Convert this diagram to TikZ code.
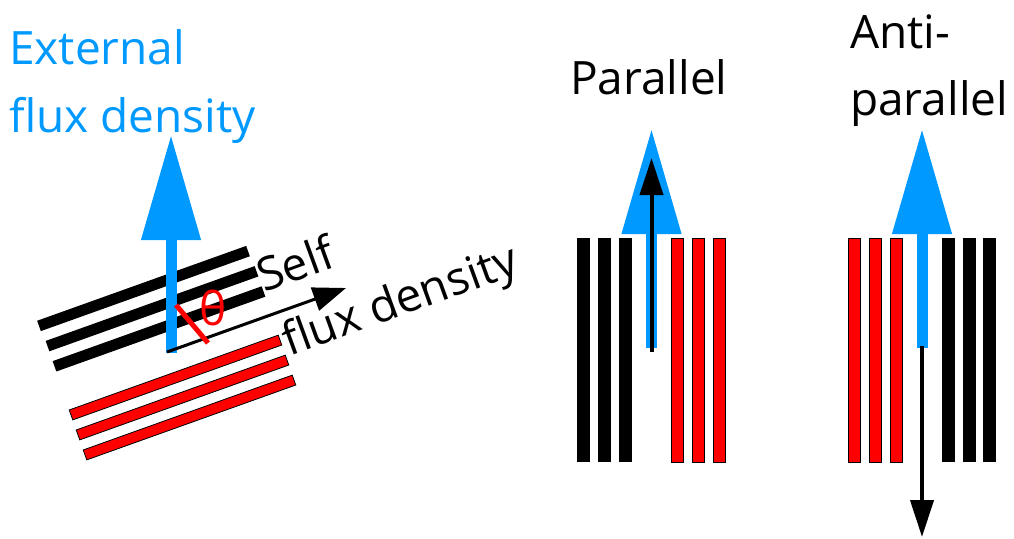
\documentclass[tikz,border=0pt]{standalone}
\usepackage{fontspec}
\setmainfont{Open Sans}
\usetikzlibrary{arrows.meta}
\definecolor{fluxblue}{RGB}{0,153,255}
\definecolor{barred}{RGB}{255,0,0}
\tikzset{
  lbl/.style={inner sep=0pt, anchor=base west, font=\fontsize{46}{55}\selectfont},
  blackbar/.style={fill=black, draw=none, inner sep=0pt, minimum width=13pt, minimum height=224pt},
  redbar/.style={fill=barred, draw=black, line width=0.8pt, inner sep=0pt, minimum width=12pt, minimum height=224pt},
  tiltblack/.style={fill=black, draw=none, inner sep=0pt, minimum width=222pt, minimum height=11pt, rotate=19.7},
  tiltred/.style={fill=barred, draw=black, line width=0.8pt, inner sep=0pt, minimum width=222pt, minimum height=10.5pt, rotate=19.7},
  extarrow/.style={draw=fluxblue, line width=11pt, -{Triangle[length=105pt,width=57pt]}},
  selfarrow/.style={draw=black, line width=4pt, -{Triangle[length=37pt,width=23pt]}},
}
\begin{document}
\begin{tikzpicture}[x=1pt,y=-1pt]
\useasboundingbox (0,0) rectangle (1014,538);

% ---------- left group ----------
\node[lbl, text=fluxblue] (ext1) at (9,64) {External};
\node[lbl, text=fluxblue] (ext2) at (9,132) {flux density};

\node[tiltblack] (b1) at (143.5,288.5) {};
\node[tiltblack] (b2) at (152,308.7) {};
\node[tiltblack] (b3) at (159,328.9) {};
\node[tiltred] (r1) at (175.5,377.5) {};
\node[tiltred] (r2) at (182.5,397.5) {};
\node[tiltred] (r3) at (189.5,417.5) {};

\coordinate (lbase) at (171,353);
\coordinate (ltip) at (171,135);
\draw[extarrow] (lbase) -- (ltip);

\coordinate (sbase) at (167,352);
\coordinate (stip) at (346,288);
\draw[draw=black, line width=3pt, -{Triangle[length=33pt,width=24pt]}] (sbase) -- (stip);

\coordinate (th1) at (176,305);
\coordinate (th2) at (208,343);
\draw[barred, line width=5pt] (th1) -- (th2);
\node[inner sep=0pt, text=barred, font=\fontsize{46}{55}\selectfont] (theta) at (213,308) {θ};

\node[lbl, rotate=20] (self1) at (264,293) {Self};
\node[lbl, rotate=20] (self2) at (289,357) {flux density};

% ---------- parallel ----------
\node[lbl] (par) at (570,94) {Parallel};
\node[blackbar] (pb1) at (583.5,350) {};
\node[blackbar] (pb2) at (604.5,350) {};
\node[blackbar] (pb3) at (625.5,350) {};
\node[redbar] (pr1) at (677,350) {};
\node[redbar] (pr2) at (698.5,350) {};
\node[redbar] (pr3) at (719,350) {};
\coordinate (pbase) at (651.5,348);
\coordinate (ptip) at (651.5,129);
\draw[extarrow] (pbase) -- (ptip);
\coordinate (psbase) at (651.5,352);
\coordinate (pstip) at (651.5,158);
\draw[selfarrow] (psbase) -- (pstip);

% ---------- anti-parallel ----------
\node[lbl] (anti1) at (850,48) {Anti-};
\node[lbl] (anti2) at (850,115) {parallel};
\node[redbar] (ar1) at (854,350) {};
\node[redbar] (ar2) at (875,350) {};
\node[redbar] (ar3) at (896,350) {};
\node[blackbar] (ab1) at (948,350) {};
\node[blackbar] (ab2) at (969,350) {};
\node[blackbar] (ab3) at (989.5,350) {};
\coordinate (abase) at (922,348);
\coordinate (atip) at (922,129);
\draw[extarrow] (abase) -- (atip);
\coordinate (asbase) at (922,346);
\coordinate (astip) at (922,537);
\draw[selfarrow] (asbase) -- (astip);
\end{tikzpicture}
\end{document}
